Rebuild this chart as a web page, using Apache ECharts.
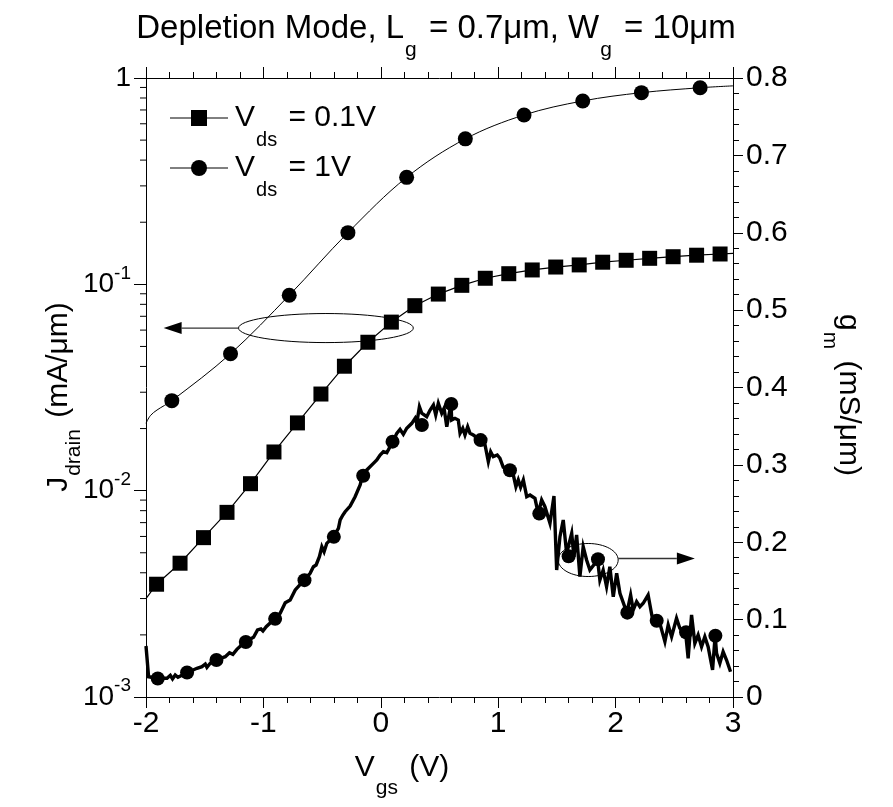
<!DOCTYPE html>
<html><head><meta charset="utf-8">
<script src="https://cdn.jsdelivr.net/npm/echarts@6/dist/echarts.min.js"></script>
<style>html,body{margin:0;padding:0;background:#fff}#c{width:893px;height:807px}</style>
</head><body><div id="c"></div>
<script>
// ---------------- data ----------------
const xTickValues = [-2, -1, 0, 1, 2, 3];
const leftTickValues = [0.001, 0.01, 0.1, 1];
const leftTickText = ['10{sup|-3}', '10{sup|-2}', '10{sup|-1}', '1'];
const rightTickValues = [0, 0.1, 0.2, 0.3, 0.4, 0.5, 0.6, 0.7, 0.8];

// J_drain, Vds = 0.1 V (squares)
const vgsSq = [-1.91,-1.71,-1.51,-1.31,-1.11,-0.91,-0.71,-0.51,-0.31,-0.11,0.09,0.29,0.49,0.69,0.89,1.09,1.29,1.49,1.69,1.89,2.09,2.29,2.49,2.69,2.89];
const jSq = [0.00352,0.00445,0.00592,0.00785,0.01081,0.0154,0.0213,0.0294,0.0401,0.0524,0.0656,0.0788,0.0897,0.0989,0.107,0.1126,0.1174,0.1213,0.1242,0.128,0.1308,0.1337,0.1361,0.1384,0.1403];
const sqLineStart = [-2, 0.0030];
const sqLineEnd = [3, 0.1414];

// J_drain, Vds = 1 V (circles) and the ends of its curve
const vgsCirc = [-1.78,-1.28,-0.78,-0.28,0.22,0.72,1.22,1.72,2.22,2.72];
const jCirc = [0.0273,0.0461,0.0885,0.178,0.330,0.507,0.662,0.774,0.849,0.897];
const curveHeadX = [-2.0,-1.963,-1.906];
const curveHeadY = [0.0212,0.0231,0.0246];
const curveTail = [3.0, 0.916];

// g_m, Vds = 1 V (noisy measured trace + circles)
const gmX = [-2.0,-1.978,-1.906,-1.821,-1.793,-1.774,-1.751,-1.728,-1.651,-1.566,-1.523,-1.495,-1.481,-1.453,-1.402,-1.325,-1.289,-1.26,-1.226,-1.155,-1.084,-1.05,-1.021,-1.004,-0.976,-0.906,-0.857,-0.814,-0.772,
-0.729,-0.653,-0.602,-0.574,-0.551,-0.523,-0.502,-0.483,-0.46,-0.403,-0.361,-0.346,-0.323,-0.304,-0.261,-0.219,-0.176,-0.157,-0.119,-0.063,-0.034,-0.017,-0.006,0.022,0.051,0.102,0.136,0.164,0.192,0.221,0.264,0.292,0.306,0.329,0.349,
0.391,0.42,0.448,0.468,0.49,0.519,0.539,0.562,0.598,0.604,0.632,0.66,0.675,0.698,0.717,0.74,0.76,0.788,0.848,0.888,0.916,0.936,0.958,0.992,1.015,1.043,1.094,1.129,1.151,1.171,1.191,1.214,1.243,1.271,1.313,1.341,1.37,1.398,1.441,1.475,1.498,1.526,1.554,1.583,1.597,1.626,1.645,1.668,1.696,1.724,1.753,1.781,1.847,1.866,1.894,1.923,1.951,1.98,2.009,2.037,2.096,2.128,2.15,2.179,2.207,2.235,2.277,2.311,2.346,2.377,2.42,2.448,2.477,2.519,2.547,2.596,2.618,2.647,2.675,2.703,2.732,2.76,2.788,2.826,2.848,2.86,2.888,2.916,2.945,2.979];
const gmY = [0.0659,0.0262,0.0242,0.0242,0.028,0.0233,0.0284,0.0255,0.0314,0.0371,0.0392,0.0426,0.0384,0.0436,0.0478,0.0521,0.0573,0.0552,0.0616,0.0715,0.0772,0.0866,0.0879,0.0853,0.0909,0.1008,0.1082,0.1219,0.1254,
0.1383,0.1512,0.1599,0.1684,0.1706,0.1813,0.1942,0.1878,0.1986,0.2072,0.218,0.2288,0.2352,0.2395,0.2468,0.2589,0.274,0.2856,0.2934,0.302,0.3063,0.3041,0.3128,0.317,0.3157,0.33,0.3408,0.346,0.3395,0.3473,0.3537,0.3602,0.3537,0.3752,0.3667,
0.3623,0.3709,0.3774,0.3645,0.3796,0.3667,0.3731,0.3493,0.3787,0.358,0.3602,0.358,0.3408,0.3473,0.3386,0.3493,0.3408,0.3386,0.3321,0.3257,0.3041,0.317,0.3106,0.3128,0.3085,0.2969,0.2934,0.2869,0.2718,0.2805,0.271,0.2805,0.2589,0.2611,0.2568,0.2374,0.2546,0.2459,0.2245,0.2598,0.1641,0.2072,0.2288,0.1857,0.1835,0.2116,0.1813,0.2094,0.1555,0.1942,0.1771,0.1641,0.1771,0.1512,0.1641,0.1426,0.1684,0.1296,0.1599,0.134,0.1089,0.1318,0.1124,0.1232,0.1167,0.1211,0.1318,0.1038,0.0986,0.0952,0.0715,0.0931,0.0779,0.1017,0.0888,0.0836,0.05,0.106,0.0694,0.0801,0.065,0.0779,0.065,0.0349,0.0792,0.0565,0.0436,0.0585,0.0478,0.0327];
const gmCircX = [-1.9,-1.65,-1.4,-1.15,-0.9,-0.65,-0.4,-0.15,0.1,0.35,0.6,0.85,1.1,1.35,1.6,1.85,2.1,2.35,2.6,2.85];
const gmCircY = [0.024,0.0316,0.0478,0.071,0.101,0.151,0.207,0.286,0.330,0.3515,0.3787,0.332,0.293,0.237,0.182,0.178,0.109,0.0986,0.0836,0.0792];

// annotation anchors in data units
const leftEllipse = {x0: -1.212, x1: 0.277, yTop: 0.0722, yBot: 0.0522, yMid: 0.0614, arrowTipX: -1.85};
const rightEllipse = {x0: 1.511, x1: 2.022, yTop: 0.1984, yBot: 0.1557, yMid: 0.179, arrowTipX: 2.675};

// ---------------- chart ----------------
const FONT = '"Liberation Sans", Arial, sans-serif';
const chart = echarts.init(document.getElementById('c'));
const zip = (a, b) => a.map((v, i) => [v, b[i]]);
const axisLineStyle = {color: '#000', width: 1};
const LBL = 30;

chart.setOption({
  animation: false,
  backgroundColor: '#fff',
  grid: {left: 146, right: 160, top: 78, bottom: 110, containLabel: false},
  xAxis: [
    {type: 'value', position: 'bottom', min: -2, max: 3, interval: 1,
     axisLine: {show: true, onZero: false, lineStyle: axisLineStyle},
     axisTick: {show: true, length: 11, lineStyle: axisLineStyle},
     minorTick: {show: true, splitNumber: 5, length: 6, lineStyle: axisLineStyle},
     splitLine: {show: false},
     axisLabel: {color: '#000', fontSize: LBL, fontFamily: FONT, margin: 12}},
    {type: 'value', position: 'top', min: -2, max: 3, interval: 1,
     axisLine: {show: true, onZero: false, lineStyle: axisLineStyle},
     axisTick: {show: true, length: 11, lineStyle: axisLineStyle},
     minorTick: {show: true, splitNumber: 5, length: 6, lineStyle: axisLineStyle},
     splitLine: {show: false}, axisLabel: {show: false}}
  ],
  yAxis: [
    {type: 'log', logBase: 10, min: 0.001, max: 1, position: 'left',
     axisLine: {show: true, onZero: false, lineStyle: axisLineStyle},
     axisTick: {show: true, length: 12, lineStyle: axisLineStyle},
     splitLine: {show: false},
     axisLabel: {color: '#000', fontSize: 28, fontFamily: FONT, margin: 15,
       formatter: v => {
         const e = Math.round(Math.log10(v));
         const idx = leftTickValues.findIndex(t => Math.round(Math.log10(t)) === e);
         return idx >= 0 ? leftTickText[idx] : '';
       },
       rich: {sup: {fontSize: 19, fontFamily: FONT, color: '#000', padding: [0, 0, 22, 0]}}}},
    {type: 'value', min: 0, max: 0.8, interval: 0.1, position: 'right',
     axisLine: {show: true, onZero: false, lineStyle: axisLineStyle},
     axisTick: {show: true, length: 10, lineStyle: axisLineStyle},
     minorTick: {show: true, splitNumber: 5, length: 6, lineStyle: axisLineStyle},
     splitLine: {show: false},
     axisLabel: {color: '#000', fontSize: LBL, fontFamily: FONT, margin: 13,
       formatter: v => { const i = rightTickValues.findIndex(t => Math.abs(t - v) < 1e-6); return i >= 0 ? String(rightTickValues[i]) : ''; }}}
  ],
  series: [
    {name: 'sqLine', type: 'line', xAxisIndex: 0, yAxisIndex: 0, showSymbol: false, silent: true,
     data: [sqLineStart].concat(zip(vgsSq, jSq)).concat([sqLineEnd]),
     lineStyle: {color: '#000', width: 1.2}, z: 2},
    {name: 'sqMarks', type: 'scatter', xAxisIndex: 0, yAxisIndex: 0, symbol: 'rect', symbolSize: 15, silent: true,
     data: zip(vgsSq, jSq), itemStyle: {color: '#000', opacity: 1}, z: 3},
    {name: 'circLine', type: 'line', xAxisIndex: 0, yAxisIndex: 0, showSymbol: false, silent: true, smooth: 0.35,
     data: zip(curveHeadX, curveHeadY).concat(zip(vgsCirc, jCirc)).concat([curveTail]),
     lineStyle: {color: '#000', width: 1}, z: 2},
    {name: 'circMarks', type: 'scatter', xAxisIndex: 0, yAxisIndex: 0, symbol: 'circle', symbolSize: 15, silent: true,
     data: zip(vgsCirc, jCirc), itemStyle: {color: '#000', opacity: 1}, z: 3},
    {name: 'gmLine', type: 'line', xAxisIndex: 0, yAxisIndex: 1, showSymbol: false, silent: true,
     data: zip(gmX, gmY), lineStyle: {color: '#000', width: 3.4, join: 'miter', miterLimit: 6}, z: 2},
    {name: 'gmMarks', type: 'scatter', xAxisIndex: 0, yAxisIndex: 1, symbol: 'circle', symbolSize: 14, silent: true,
     data: zip(gmCircX, gmCircY), itemStyle: {color: '#000', opacity: 1}, z: 3}
  ]
});

// ---------------- overlays ----------------
function px(x, y, yi) { return chart.convertToPixel({xAxisIndex: 0, yAxisIndex: yi}, [x, y]); }
const g = [];
// log minor ticks on left axis
const axisX = px(-2, 0.1, 0)[0];
for (let e = -3; e < 0; e++) {
  for (let m = 2; m <= 9; m++) {
    const yy = px(-2, m * Math.pow(10, e), 0)[1];
    g.push({type: 'line', silent: true, z: 10, shape: {x1: axisX - 6, y1: yy, x2: axisX, y2: yy}, style: {stroke: '#000', lineWidth: 1}});
  }
}
function annot(e, yi, dir) {
  const a = px(e.x0, e.yTop, yi), b = px(e.x1, e.yBot, yi);
  const cx = (a[0] + b[0]) / 2, cy = (a[1] + b[1]) / 2;
  g.push({type: 'ellipse', silent: true, z: 10, shape: {cx: cx, cy: cy, rx: (b[0] - a[0]) / 2, ry: (b[1] - a[1]) / 2},
          style: {fill: 'none', stroke: '#000', lineWidth: 1}});
  const ym = px(0, e.yMid, yi)[1];
  const tip = px(e.arrowTipX, e.yMid, yi)[0];
  const start = dir < 0 ? a[0] : b[0];
  const base = tip - dir * 18;
  g.push({type: 'line', silent: true, z: 10, shape: {x1: start, y1: ym, x2: base, y2: ym}, style: {stroke: '#333', lineWidth: 1.3}});
  g.push({type: 'polygon', silent: true, z: 10, shape: {points: [[tip, ym], [base, ym - 6], [base, ym + 6]]}, style: {fill: '#000'}});
}
annot(leftEllipse, 0, -1);
annot(rightEllipse, 1, 1);

const subRich = (fs, pad) => ({sub: {fontSize: fs, fontFamily: FONT, fill: '#000', padding: [pad, 3, 0, 1]}});

// legend
const legendRows = [{y: 118, sym: 'rect', text: 'V{sub|ds} = 0.1V'}, {y: 168, sym: 'circle', text: 'V{sub|ds} = 1V'}];
legendRows.forEach(r => {
  g.push({type: 'line', silent: true, z: 10, shape: {x1: 170, y1: r.y, x2: 228, y2: r.y}, style: {stroke: '#000', lineWidth: 1}});
  if (r.sym === 'rect') g.push({type: 'rect', silent: true, z: 11, shape: {x: 191, y: r.y - 8, width: 16, height: 16}, style: {fill: '#000'}});
  else g.push({type: 'circle', silent: true, z: 11, shape: {cx: 199, cy: r.y, r: 8}, style: {fill: '#000'}});
  g.push({type: 'text', silent: true, z: 11, x: 235, y: r.y,
    style: {text: r.text, font: '30px ' + FONT, fill: '#000', verticalAlign: 'middle', align: 'left', rich: subRich(20, 44)}});
});
// title
g.push({type: 'text', silent: true, z: 11, x: 436, y: 29,
  style: {text: 'Depletion Mode, L{sub|g} = 0.7\u03bcm, W{sub|g} = 10\u03bcm', font: '33px ' + FONT, fill: '#000',
    align: 'center', verticalAlign: 'middle', rich: subRich(21, 42)}});
// axis titles
g.push({type: 'text', silent: true, z: 11, x: 402, y: 768,
  style: {text: 'V{sub|gs} (V)', font: '30px ' + FONT, fill: '#000', align: 'center', verticalAlign: 'middle', rich: subRich(21, 40)}});
g.push({type: 'text', silent: true, z: 11, x: 59, y: 397, rotation: Math.PI / 2,
  style: {text: 'J{sub|drain} (mA/\u03bcm)', font: '30px ' + FONT, fill: '#000', align: 'center', verticalAlign: 'middle', rich: subRich(21, 30)}});
g.push({type: 'text', silent: true, z: 11, x: 848, y: 395, rotation: -Math.PI / 2,
  style: {text: 'g{sub|m} (mS/\u03bcm)', font: '30px ' + FONT, fill: '#000', align: 'center', verticalAlign: 'middle', rich: subRich(21, 36)}});

chart.setOption({graphic: {elements: g}});
</script>
</body></html>
